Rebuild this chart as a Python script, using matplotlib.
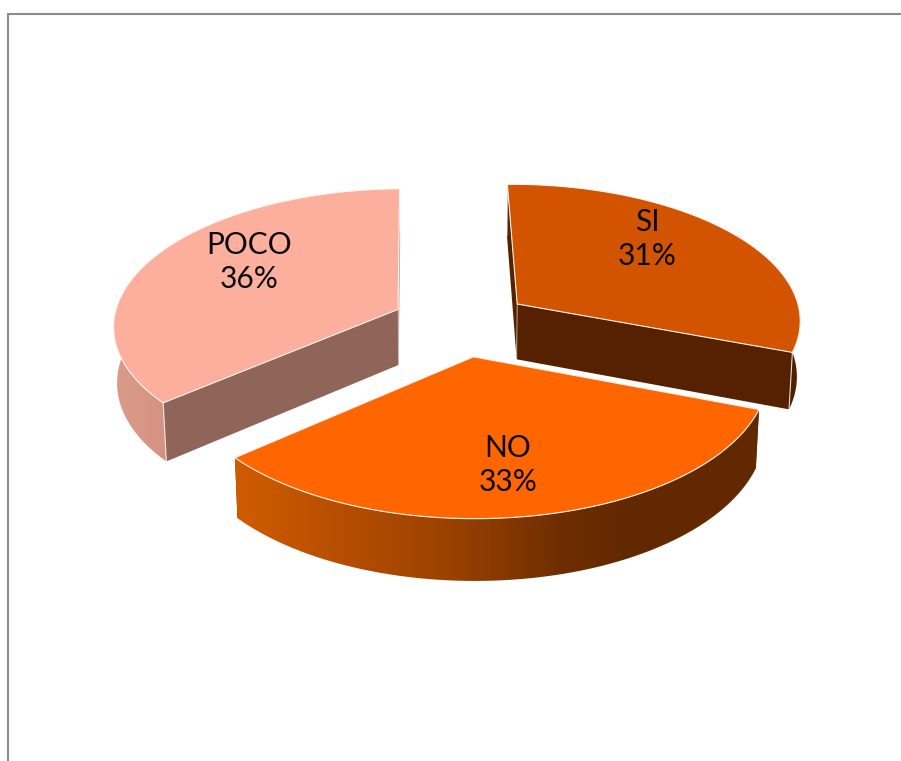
import numpy as np
import matplotlib
matplotlib.use("Agg")
import matplotlib.pyplot as plt
from matplotlib.colors import to_rgb

# Survey answers, in clockwise order starting from the back of the pie
categories = ["SI", "NO", "POCO"]
percentages = [31, 33, 36]

top_colors = {"SI": "#D25400", "NO": "#FF6600", "POCO": "#FCAF9D"}
front_wall_colors = {"SI": "#552100", "NO": "#662900", "POCO": "#8F6459"}
back_wall_colors = {"SI": "#552100", "NO": "#662900", "POCO": "#C99685"}
draw_order = ["POCO", "SI", "NO"]
label_xy = {"SI": (647, 239), "NO": (508, 465), "POCO": (249, 262)}

# Horizontal shading of each outer wall, keyed on screen x
rim_stops = {
    "NO": [(240, "#CF5B00"), (330, "#B94F00"), (450, "#9A4100"),
           (560, "#6F2E00"), (620, "#632900"), (770, "#622800")],
    "POCO": [(110, "#DB9C8C"), (175, "#D49080")],
    "SI": [(500, "#4F2000"), (810, "#4F2000")],
}

# Camera and pie geometry, in pixels
CX, CY = 461.0, 323.0
RX, RY = 285.0, 136.5
TILT = 0.108      # perspective shrink front to back
DROP = 56.5       # thickness of the pie on screen
DROP_TILT = 0.01  # convergence of the vertical edges
EXPLODE = 0.245
START_DEG = 269.0


def project(x, y, z=0.0):
    w = 1.0 - TILT * y + DROP_TILT * z
    return CX + RX * x / w, CY + (RY * y + DROP * z) / w


def shaded_polygon(ax, pts, stops):
    # Fill a polygon with a left-to-right gradient clipped to its outline
    pts = np.asarray(pts)
    x0, x1 = pts[:, 0].min(), pts[:, 0].max()
    y0, y1 = pts[:, 1].min(), pts[:, 1].max()
    xs = np.linspace(x0, x1, 400)
    keys = [s[0] for s in stops]
    rgb = np.array([to_rgb(s[1]) for s in stops])
    row = np.column_stack([np.interp(xs, keys, rgb[:, i]) for i in range(3)])
    im = ax.imshow(row[None, :, :], extent=(x0, x1, y1, y0), aspect="auto",
                   interpolation="bilinear", zorder=2)
    outline = plt.Polygon(pts, closed=True, fc="none", ec="none",
                          transform=ax.transData)
    ax.add_patch(outline)
    im.set_clip_path(outline)


fig = plt.figure(figsize=(9.01, 7.61), dpi=100, facecolor="white")
ax = fig.add_axes([0, 0, 1, 1])
ax.axis("off")

# Chart frame, running off the right and bottom edges
ax.plot([7.5, 7.5, 901], [761, 13.5, 13.5], color="#8C8C8C", lw=1.5,
        solid_joinstyle="miter", zorder=1)

edges = np.cumsum([0] + percentages) / sum(percentages) * 360.0 + START_DEG
spans = {c: (edges[i], edges[i + 1]) for i, c in enumerate(categories)}

for n, name in enumerate(draw_order):
    a0, a1 = np.radians(spans[name])
    mid = 0.5 * (a0 + a1)
    ox, oy = EXPLODE * np.cos(mid), EXPLODE * np.sin(mid)
    theta = np.linspace(a0, a1, 360)
    rx, ry = ox + np.cos(theta), oy + np.sin(theta)

    def radial_wall(i):
        return [project(ox, oy), project(rx[i], ry[i]),
                project(rx[i], ry[i], 1), project(ox, oy, 1)]

    # A radial wall faces the viewer only when its outward normal points forward
    start_faces = np.cos(a0) < 0
    end_faces = np.cos(a1) > 0

    for i, faces in ((0, start_faces), (-1, end_faces)):
        if not faces:
            ax.add_patch(plt.Polygon(radial_wall(i), closed=True,
                                     fc=back_wall_colors[name], ec="none", zorder=2))

    # Only the forward-facing part of the rim is drawn
    keep = np.sin(theta) > -0.05
    sx0, sy0 = project(rx[keep], ry[keep])
    sx1, sy1 = project(rx[keep], ry[keep], 1)
    rim = list(zip(sx0, sy0)) + list(zip(sx1[::-1], sy1[::-1]))
    shaded_polygon(ax, rim, rim_stops[name])

    for i, faces in ((0, start_faces), (-1, end_faces)):
        if faces:
            wall = radial_wall(i)
            ax.add_patch(plt.Polygon(wall, closed=True,
                                     fc=front_wall_colors[name], ec="none", zorder=2))
            # Pale highlights along the vertical corners
            ax.plot(*zip(wall[1], wall[2]), color="white", lw=0.8, alpha=0.8, zorder=3)
            ax.plot(*zip(wall[0], wall[3]), color="white", lw=0.6, alpha=0.35, zorder=3)

    # Top face
    tx, ty = project(rx, ry)
    top = [project(ox, oy)] + list(zip(tx, ty))
    ax.add_patch(plt.Polygon(top, closed=True, fc=top_colors[name],
                             ec="#FFF4EE", lw=0.8, joinstyle="round", zorder=4))

# Category and share labels on the top faces
for name, pct in zip(categories, percentages):
    x, y = label_xy[name]
    ax.text(x, y, f"{name}\n{pct}%", ha="center", va="center", color="#0A0A0A",
            family="Lato", fontsize=21.5, linespacing=1.22, zorder=6)

ax.set_xlim(0, 901)
ax.set_ylim(761, 0)
ax.set_aspect("auto")

fig.savefig("out.png", dpi=100, facecolor="white")
